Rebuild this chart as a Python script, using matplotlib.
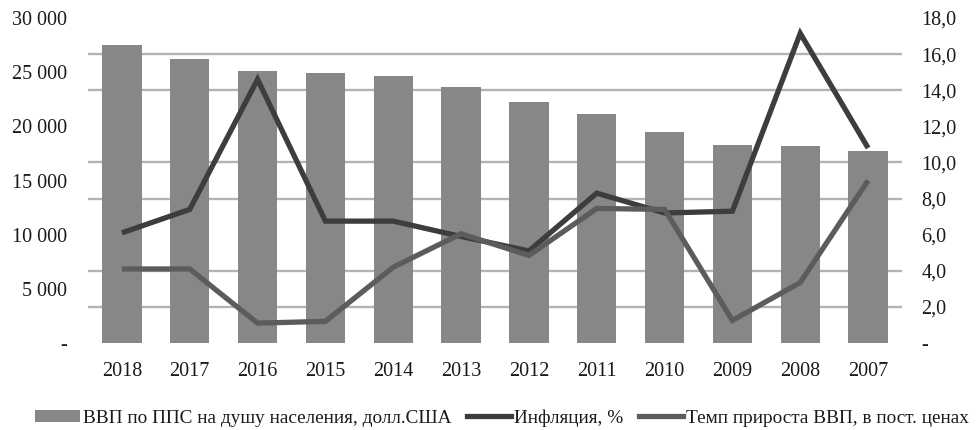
import matplotlib
matplotlib.use("Agg")
import matplotlib.pyplot as plt
from matplotlib.ticker import FuncFormatter
from matplotlib.patches import Patch
from matplotlib.lines import Line2D
import numpy as np

years = ["2018", "2017", "2016", "2015", "2014", "2013", "2012", "2011", "2010", "2009", "2008", "2007"]
gdp_ppp = [27500, 26200, 25150, 24900, 24680, 23660, 22250, 21140, 19500, 18250, 18180, 17750]
inflation = [6.1, 7.4, 14.6, 6.75, 6.75, 5.9, 5.1, 8.3, 7.2, 7.3, 17.15, 10.8]
gdp_growth = [4.1, 4.1, 1.1, 1.2, 4.2, 6.05, 4.85, 7.45, 7.4, 1.25, 3.35, 9.0]

legend_labels = ["ВВП по ППС на душу населения, долл.США", "Инфляция, %", "Темп прироста ВВП, в пост. ценах"]

plt.rcParams['font.family'] = ['Liberation Serif', 'DejaVu Serif']

bar_color = "#87878a"
infl_color = "#3d3d3f"
growth_color = "#5c5c5e"
grid_color = "#b3b3b5"
text_color = "#1a1a1a"

fig = plt.figure(figsize=(9.77, 4.30), dpi=100)
ax = fig.add_axes([88/977, 1-343/430, (902-88)/977, (343-18)/430])
ax2 = ax.twinx()

x = np.arange(len(years))
ax.bar(x, gdp_ppp, width=0.58, color=bar_color, zorder=2)
ax.set_xlim(-0.5, len(years)-0.5)
ax.set_ylim(0, 30000)
ax.set_yticks(np.arange(0, 30001, 5000))
ax.set_yticks(np.linspace(0, 30000, 10), minor=True)
ax.grid(which='minor', axis='y', color=grid_color, linewidth=1.7, zorder=0)
ax.grid(which='major', visible=False)
ax.set_axisbelow(True)
ax.set_xticks(x)
ax.set_xticklabels(years)

def lfmt(v, pos):
    if v == 0:
        return "-"
    return f"{int(v):,}".replace(",", " ")

def rfmt(v, pos):
    if v == 0:
        return "-"
    return f"{v:.1f}".replace(".", ",")

ax.yaxis.set_major_formatter(FuncFormatter(lfmt))
ax.tick_params(axis='y', which='both', length=0, labelsize=14.5, colors=text_color, pad=15)
ax.tick_params(axis='x', length=0, labelsize=14.5, colors=text_color, pad=14)
for s in ax.spines.values():
    s.set_visible(False)

ax2.plot(x, inflation, color=infl_color, linewidth=3.8, solid_joinstyle='miter', solid_capstyle='butt', zorder=3)
ax2.plot(x, gdp_growth, color=growth_color, linewidth=3.8, solid_joinstyle='miter', solid_capstyle='butt', zorder=4)
ax2.set_ylim(0, 18)
ax2.set_yticks(np.arange(0, 18.1, 2))
ax2.yaxis.set_major_formatter(FuncFormatter(rfmt))
ax2.tick_params(axis='y', length=0, labelsize=14.5, colors=text_color, pad=14)
for s in ax2.spines.values():
    s.set_visible(False)

handles = [
    Patch(facecolor=bar_color, edgecolor='none'),
    Line2D([0], [0], color=infl_color, linewidth=3.8),
    Line2D([0], [0], color=growth_color, linewidth=3.8),
]
fig.legend(handles, legend_labels, loc='center', bbox_to_anchor=(0.514, 1-418/430), ncol=3,
           frameon=False, fontsize=13.9, handlelength=2.3, handletextpad=0.15, columnspacing=0.8,
           handleheight=0.6, borderpad=0.0, borderaxespad=0.0, labelcolor=text_color)

fig.savefig("out.png", dpi=100)
